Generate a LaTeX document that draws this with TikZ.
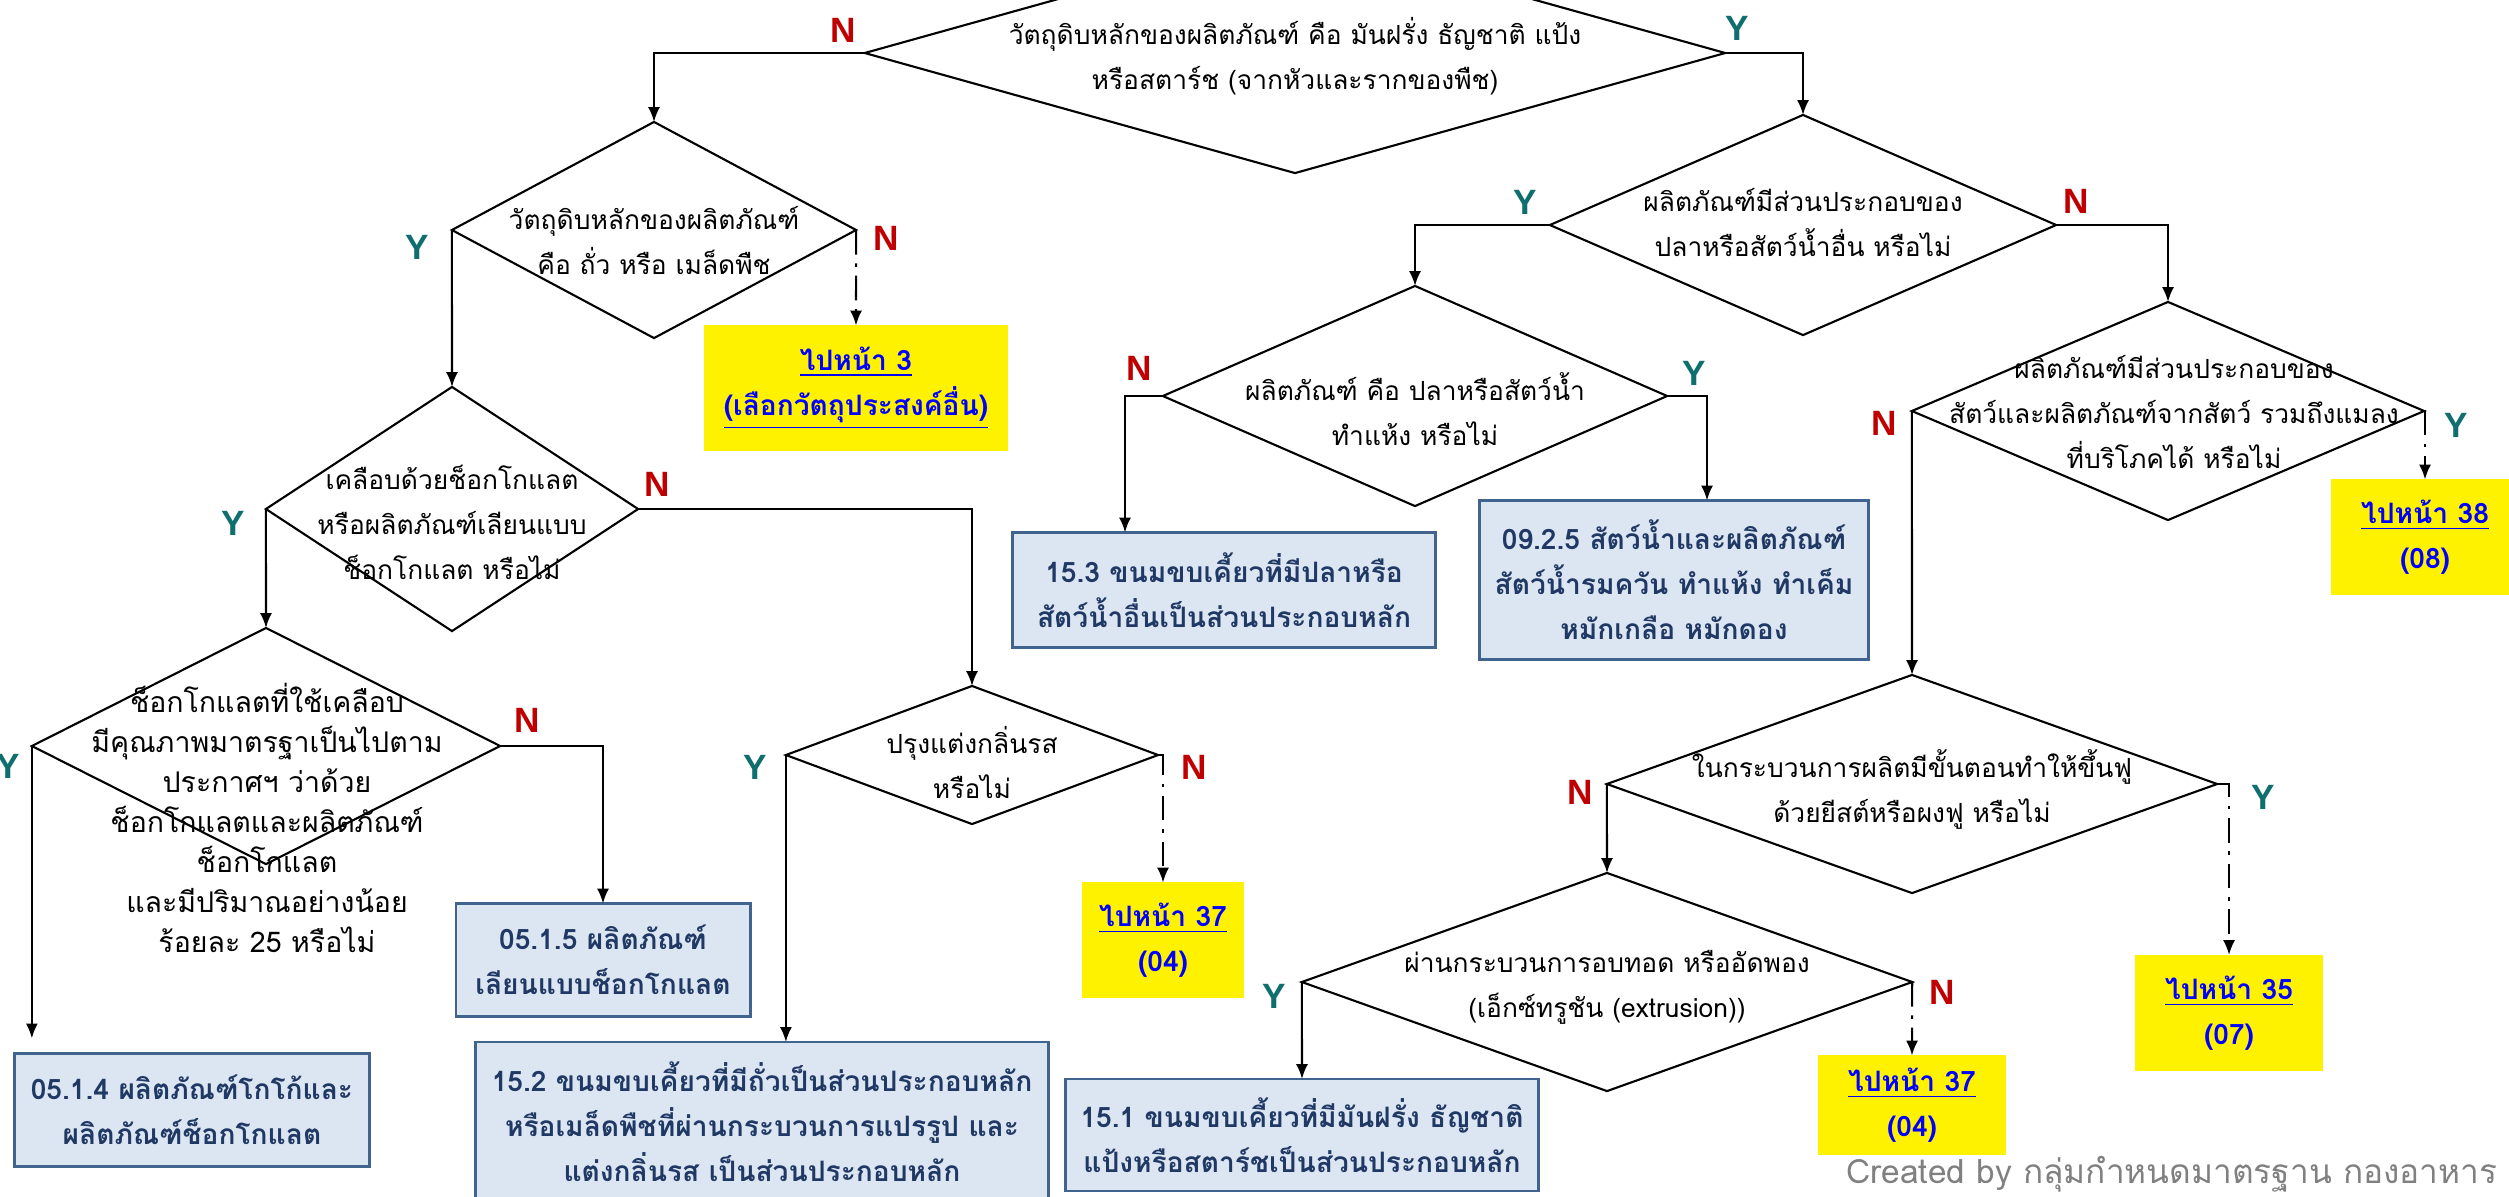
\documentclass[tikz,border=0pt]{standalone}
\usepackage{fontspec}
\setmainfont[Script=Thai]{Loma}
\newfontfamily\labelfont{Liberation Sans}
\usetikzlibrary{shapes.geometric,arrows.meta}
\definecolor{nred}{HTML}{C00000}
\definecolor{yteal}{HTML}{0F6E6E}
\definecolor{boxfill}{HTML}{DCE6F2}
\definecolor{boxline}{HTML}{41648F}
\definecolor{navy}{HTML}{1F3864}
\definecolor{linkblue}{HTML}{0000FF}
\definecolor{creditgray}{HTML}{808080}
\begin{document}
\begin{tikzpicture}[x=0.01cm,y=-0.01cm,
  dia/.style={shape=diamond,draw,line width=0.6pt,inner sep=0pt,outer sep=0pt},
  qtext/.style={font=\fontsize{7.5}{12.8}\selectfont,align=center,inner sep=0pt},
  res/.style={draw=boxline,fill=boxfill,line width=0.8pt,text=navy,align=center,
    inner sep=0pt,outer sep=0pt,font=\bfseries\fontsize{8}{12.8}\selectfont},
  goto/.style={fill=yellow,text=linkblue,align=center,inner sep=0pt,outer sep=0pt,
    font=\bfseries\fontsize{8}{12.8}\selectfont},
  yes/.style={text=yteal,font=\labelfont\bfseries\fontsize{10}{12}\selectfont,inner sep=0pt},
  no/.style={text=nred,font=\labelfont\bfseries\fontsize{10}{12}\selectfont,inner sep=0pt},
  flow/.style={line width=0.6pt,-{Latex[length=4.2pt,width=3.4pt]}},
  jump/.style={flow,dash pattern=on 7pt off 2.5pt on 1pt off 2.5pt},
  credit/.style={text=creditgray,font=\fontsize{9.5}{11}\selectfont,inner sep=0pt}]
\useasboundingbox (0,0) rectangle (2509,1196);
\clip (0,0) rectangle (2509,1196);

% decision diamonds
\node[dia,minimum width=8.6cm,minimum height=2.4cm] (d1) at (1295,53) {};
\node[dia,minimum width=4.04cm,minimum height=2.16cm] (d2) at (654,230) {};
\node[dia,minimum width=3.72cm,minimum height=2.44cm] (d3) at (452,509) {};
\node[dia,minimum width=4.68cm,minimum height=2.36cm] (d9) at (266,746) {};
\node[dia,minimum width=3.72cm,minimum height=1.38cm] (d10) at (972,755) {};
\node[dia,minimum width=5.06cm,minimum height=2.2cm] (d4) at (1803,225) {};
\node[dia,minimum width=5.04cm,minimum height=2.2cm] (d5) at (1415,396) {};
\node[dia,minimum width=5.12cm,minimum height=2.18cm] (d6) at (2168,411) {};
\node[dia,minimum width=6.1cm,minimum height=2.18cm] (d7) at (1912,784) {};
\node[dia,minimum width=6.1cm,minimum height=2.18cm] (d8) at (1607,982) {};

% questions
\node[qtext] (q1) at (1295,56) {วัตถุดิบหลักของผลิตภัณฑ์ คือ มันฝรั่ง ธัญชาติ แป้ง\\หรือสตาร์ช (จากหัวและรากของพืช)};
\node[qtext] (q2) at (654,240) {วัตถุดิบหลักของผลิตภัณฑ์\\คือ ถั่ว หรือ เมล็ดพืช};
\node[qtext] (q3) at (452,522) {เคลือบด้วยช็อกโกแลต\\หรือผลิตภัณฑ์เลียนแบบ\\ช็อกโกแลต หรือไม่};
\node[qtext,font=\fontsize{8.1}{11.4}\selectfont] (q9) at (267,818) {ช็อกโกแลตที่ใช้เคลือบ\\มีคุณภาพมาตรฐาเป็นไปตาม\\ประกาศฯ ว่าด้วย\\ช็อกโกแลตและผลิตภัณฑ์\\ช็อกโกแลต\\และมีปริมาณอย่างน้อย\\ร้อยละ 25 หรือไม่};
\node[qtext] (q10) at (972,762) {ปรุงแต่งกลิ่นรส\\หรือไม่};
\node[qtext] (q4) at (1803,222) {ผลิตภัณฑ์มีส่วนประกอบของ\\ปลาหรือสัตว์น้ำอื่น หรือไม่};
\node[qtext] (q5) at (1415,409) {ผลิตภัณฑ์ คือ ปลาหรือสัตว์น้ำ\\ทำแห้ง หรือไม่};
\node[qtext] (q6) at (2174,412) {ผลิตภัณฑ์มีส่วนประกอบของ\\สัตว์และผลิตภัณฑ์จากสัตว์ รวมถึงแมลง\\ที่บริโภคได้ หรือไม่};
\node[qtext] (q7) at (1912,789) {ในกระบวนการผลิตมีขั้นตอนทำให้ขึ้นฟู\\ด้วยยีสต์หรือผงฟู หรือไม่};
\node[qtext] (q8) at (1607,987) {ผ่านกระบวนการอบทอด หรืออัดพอง\\(เอ็กซ์ทรูชัน (extrusion))};

% result categories
\node[res,minimum width=3.54cm,minimum height=1.13cm] (b0514) at (192,1110) {05.1.4 ผลิตภัณฑ์โกโก้และ\\ผลิตภัณฑ์ช็อกโกแลต};
\node[res,minimum width=2.94cm,minimum height=1.13cm] (b0515) at (603,960) {05.1.5 ผลิตภัณฑ์\\เลียนแบบช็อกโกแลต};
\node[res,minimum width=5.73cm,minimum height=1.6cm] (b152) at (762,1122) {15.2 ขนมขบเคี้ยวที่มีถั่วเป็นส่วนประกอบหลัก\\หรือเมล็ดพืชที่ผ่านกระบวนการแปรรูป และ\\แต่งกลิ่นรส เป็นส่วนประกอบหลัก};
\node[res,minimum width=4.22cm,minimum height=1.15cm] (b153) at (1224,590) {15.3 ขนมขบเคี้ยวที่มีปลาหรือ\\สัตว์น้ำอื่นเป็นส่วนประกอบหลัก};
\node[res,minimum width=3.89cm,minimum height=1.59cm] (b0925) at (1674,580) {09.2.5 สัตว์น้ำและผลิตภัณฑ์\\สัตว์น้ำรมควัน ทำแห้ง ทำเค็ม\\หมักเกลือ หมักดอง};
\node[res,minimum width=4.73cm,minimum height=1.12cm] (b151) at (1302,1135) {15.1 ขนมขบเคี้ยวที่มีมันฝรั่ง ธัญชาติ\\แป้งหรือสตาร์ชเป็นส่วนประกอบหลัก};

% page jumps
\node[goto,minimum width=3.04cm,minimum height=1.25cm] (y3) at (856,388) {\underline{ไปหน้า 3}\\\underline{(เลือกวัตถุประสงค์อื่น)}};
\node[goto,minimum width=1.61cm,minimum height=1.15cm] (y37a) at (1163,940) {\underline{ไปหน้า 37}\\(04)};
\node[goto,minimum width=1.88cm,minimum height=1.15cm] (y38) at (2425,537) {\underline{ไปหน้า 38}\\(08)};
\node[goto,minimum width=1.88cm,minimum height=1.16cm] (y35) at (2229,1013) {\underline{ไปหน้า 35}\\(07)};
\node[goto,minimum width=1.88cm,minimum height=0.99cm] (y37b) at (1912,1105) {\underline{ไปหน้า 37}\\(04)};

% connectors
\coordinate (k1) at (1125,396);
\coordinate (k2) at (1707,396);
\draw[flow] (d1.west) -| (d2.north);
\draw[flow] (d1.east) -| (d4.north);
\draw[flow] (d2.west) -- (d3.north);
\draw[jump] (d2.east) -- (y3.north);
\draw[flow] (d3.west) -- (d9.north);
\draw[flow] (d3.east) -| (d10.north);
\draw[flow,shorten >=4.3pt] (d9.west) -- (d9.west |- b0514.north);
\draw[flow] (d9.east) -| (b0515.north);
\draw[flow] (d10.west) -- (d10.west |- b152.north);
\draw[jump] (d10.east) -| (y37a.north);
\draw[flow] (d4.west) -| (d5.north);
\draw[flow] (d4.east) -| (d6.north);
\draw[flow] (d5.west) -- (k1) -- (k1 |- b153.north);
\draw[flow] (d5.east) -- (k2) -- (k2 |- b0925.north);
\draw[jump] (d6.east) -| (y38.north);
\draw[flow] (d6.west) -- (d7.north);
\draw[jump] (d7.east) -| (y35.north);
\draw[flow] (d7.west) -- (d8.north);
\draw[flow] (d8.west) -- (b151.north);
\draw[jump] (d8.east) -- (y37b.north);

% branch labels
\node[no] (n1) at (843,30) {N};
\node[yes] (y1) at (1737,28) {Y};
\node[yes] (y2l) at (417,247) {Y};
\node[no] (n2) at (886,238) {N};
\node[yes] (y3l) at (233,523) {Y};
\node[no] (n3) at (657,484) {N};
\node[yes] (y9l) at (8,766) {Y};
\node[no] (n9) at (527,720) {N};
\node[yes] (y10l) at (755,767) {Y};
\node[no] (n10) at (1194,767) {N};
\node[yes] (y4l) at (1525,202) {Y};
\node[no] (n4) at (2076,201) {N};
\node[yes] (y5l) at (1694,373) {Y};
\node[no] (n5) at (1139,368) {N};
\node[no] (n6) at (1884,423) {N};
\node[yes] (y6l) at (2456,425) {Y};
\node[no] (n7) at (1580,792) {N};
\node[yes] (y7l) at (2263,797) {Y};
\node[yes] (y8l) at (1274,996) {Y};
\node[no] (n8) at (1942,992) {N};

\node[credit,anchor=east] (credit) at (2498,1174) {Created by กลุ่มกำหนดมาตรฐาน กองอาหาร};
\end{tikzpicture}
\end{document}
